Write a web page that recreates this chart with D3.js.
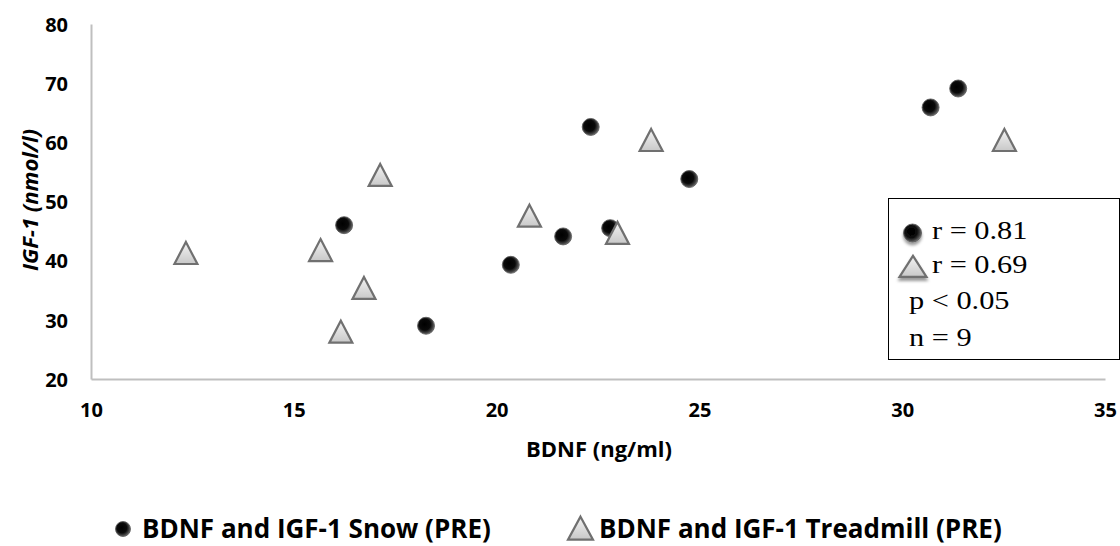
<!DOCTYPE html>
<html>
<head>
<meta charset="utf-8">
<script src="https://cdn.jsdelivr.net/npm/d3@7"></script>
<style>
  html, body { margin: 0; padding: 0; background: #fff; }
  svg { display: block; }
</style>
</head>
<body>
<svg id="chart" width="1120" height="546"></svg>
<script>
// BDNF (ng/ml) vs IGF-1 (nmol/l), pre-intervention
const snowBDNF = [16.24, 18.26, 20.35, 21.64, 22.32, 22.80, 24.75, 30.70, 31.38];
const snowIGF1 = [46.0, 29.0, 39.3, 44.1, 62.6, 45.5, 53.8, 65.9, 69.1];
const treadBDNF = [12.34, 15.66, 16.16, 16.73, 17.13, 20.81, 22.98, 23.81, 32.52];
const treadIGF1 = [41.0, 41.5, 27.7, 35.1, 54.2, 47.3, 44.4, 60.1, 60.1];
const xTicks = [10, 15, 20, 25, 30, 35];
const yTicks = [20, 30, 40, 50, 60, 70, 80];
const statLines = ["r = 0.81", "r = 0.69", "p < 0.05", "n = 9"];
const seriesNames = ["BDNF and IGF-1 Snow (PRE)", "BDNF and IGF-1 Treadmill (PRE)"];

const svg = d3.select("#chart");
const sans = "'Open Sans', 'Liberation Sans', sans-serif";
const serif = "'Liberation Serif', 'Times New Roman', serif";

const x = d3.scaleLinear().domain([10, 35]).range([91, 1105]);
const y = d3.scaleLinear().domain([20, 80]).range([379, 24]);

// gradients for glossy markers
const defs = svg.append("defs");
const rg = defs.append("radialGradient").attr("id", "ball")
  .attr("cx", "45%").attr("cy", "45%").attr("r", "60%").attr("fx", "40%").attr("fy", "40%");
rg.append("stop").attr("offset", "0%").attr("stop-color", "#000");
rg.append("stop").attr("offset", "55%").attr("stop-color", "#0a0a0a");
rg.append("stop").attr("offset", "80%").attr("stop-color", "#444");
rg.append("stop").attr("offset", "100%").attr("stop-color", "#888");
const tg = defs.append("linearGradient").attr("id", "tri")
  .attr("x1", "0").attr("y1", "0").attr("x2", "0").attr("y2", "1");
tg.append("stop").attr("offset", "0%").attr("stop-color", "#f4f4f4");
tg.append("stop").attr("offset", "100%").attr("stop-color", "#c8c8c8");
const sh = defs.append("filter").attr("id", "shadow")
  .attr("x", "-50%").attr("y", "-50%").attr("width", "200%").attr("height", "200%");
sh.append("feDropShadow").attr("dx", 0).attr("dy", 3).attr("stdDeviation", 1.8)
  .attr("flood-color", "#000").attr("flood-opacity", 0.4);

// axes
const xAxis = d3.axisBottom(x).tickValues(xTicks).tickSize(0).tickPadding(0);
const yAxis = d3.axisLeft(y).tickValues(yTicks).tickSize(0).tickPadding(0);

const gx = svg.append("g").attr("transform", `translate(0,${y(20)})`).call(xAxis);
gx.select(".domain").attr("stroke", "#bfbfbf").attr("stroke-width", 2);
gx.selectAll("text").attr("dy", null).attr("y", 38)
  .attr("font-family", sans).attr("font-weight", "bold").attr("font-size", 20).attr("fill", "#000");

const gy = svg.append("g").attr("transform", `translate(${x(10)},0)`).call(yAxis);
gy.select(".domain").attr("stroke", "#bfbfbf").attr("stroke-width", 2);
gy.selectAll("text").attr("x", -23).attr("dy", "0.36em")
  .attr("font-family", sans).attr("font-weight", "bold").attr("font-size", 20).attr("fill", "#000");

// axis titles
svg.append("text").attr("x", 599).attr("y", 457).attr("text-anchor", "middle")
  .attr("font-family", sans).attr("font-weight", "bold").attr("font-size", 22)
  .text("BDNF (ng/ml)");
svg.append("text").attr("transform", "translate(38,200) rotate(-90)").attr("text-anchor", "middle")
  .attr("font-family", sans).attr("font-weight", "bold").attr("font-style", "italic").attr("font-size", 22)
  .text("IGF-1 (nmol/l)");

// marker helpers
const triPath = (w, h) => `M0,${-h * 0.58}L${w / 2},${h * 0.42}L${-w / 2},${h * 0.42}Z`;
function ball(g, cx, cy, r) {
  g.append("circle").attr("cx", cx).attr("cy", cy).attr("r", r)
    .attr("fill", "url(#ball)").attr("stroke", "#555").attr("stroke-width", 0.8);
}
function tri(g, cx, cy, w, h) {
  g.append("path").attr("d", triPath(w, h)).attr("transform", `translate(${cx},${cy})`)
    .attr("fill", "url(#tri)").attr("stroke", "#707070").attr("stroke-width", 2.2);
}

// data points
const snow = snowBDNF.map((v, i) => ({ x: v, y: snowIGF1[i] }));
const tread = treadBDNF.map((v, i) => ({ x: v, y: treadIGF1[i] }));

const gPts = svg.append("g");
gPts.selectAll("path.tri").data(tread).enter().append("path").attr("class", "tri")
  .attr("d", triPath(23, 22))
  .attr("transform", d => `translate(${x(d.x)},${y(d.y)})`)
  .attr("fill", "url(#tri)").attr("stroke", "#707070").attr("stroke-width", 2.2);
gPts.selectAll("circle.ball").data(snow).enter().append("circle").attr("class", "ball")
  .attr("cx", d => x(d.x)).attr("cy", d => y(d.y)).attr("r", 8.5)
  .attr("fill", "url(#ball)").attr("stroke", "#555").attr("stroke-width", 0.8);
// the snow point overlapped by a treadmill triangle sits underneath it
gPts.selectAll("path.tri").filter(d => d.x > 22.5 && d.x < 23.5).raise();

// statistics box
const box = svg.append("g");
box.append("rect").attr("x", 888.5).attr("y", 198.5).attr("width", 231).attr("height", 161)
  .attr("fill", "#fff").attr("stroke", "#000").attr("stroke-width", 1);
const bIcons = box.append("g").attr("filter", "url(#shadow)");
ball(bIcons, 912.5, 233, 9);
tri(bIcons, 913, 268, 27, 21);
const statX = [932, 932, 909, 909];
const statY = [239, 273, 309, 346];
box.selectAll("text.stat").data(statLines).enter().append("text").attr("class", "stat")
  .attr("transform", (d, i) => `translate(${statX[i]},${statY[i]}) scale(1.19,1)`)
  .attr("font-family", serif).attr("font-size", 25.5).attr("fill", "#000")
  .text(d => d);

// series legend
const leg = svg.append("g");
ball(leg, 123, 529, 7.5);
tri(leg, 580.5, 530, 25, 23);
const legX = [142, 599];
leg.selectAll("text.leg").data(seriesNames).enter().append("text").attr("class", "leg")
  .attr("x", (d, i) => legX[i]).attr("y", 538)
  .attr("font-family", sans).attr("font-weight", "bold").attr("font-size", 26).attr("fill", "#000")
  .text(d => d);
</script>
</body>
</html>
